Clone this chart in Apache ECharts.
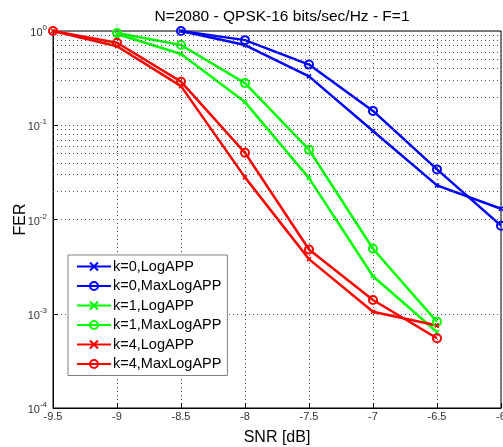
<!DOCTYPE html>
<html>
<head>
<meta charset="utf-8">
<script src="https://cdn.jsdelivr.net/npm/echarts@6/dist/echarts.min.js"></script>
<style>
html,body{margin:0;padding:0;background:#fff;}
#chart{width:503px;height:447px;}
</style>
</head>
<body>
<div id="chart"></div>
<script>
const snr = [-9.5, -9, -8.5, -8, -7.5, -7, -6.5, -6];
const k0Log    = [null, null, 1.0, 0.71, 0.33, 0.087, 0.023, 0.013];
const k0MaxLog = [null, null, 1.0, 0.80, 0.44, 0.142, 0.034, 0.0086];
const k1Log    = [null, 0.93, 0.57, 0.176, 0.0275, 0.0025, 0.00064, null];
const k1MaxLog = [null, 0.95, 0.71, 0.28, 0.055, 0.0049, 0.00082, null];
const k4Log    = [1.0, 0.69, 0.26, 0.028, 0.0038, 0.00105, 0.00075, null];
const k4MaxLog = [1.0, 0.75, 0.29, 0.051, 0.0048, 0.0014, 0.00055, null];
const xTicks = ['-9.5', '-9', '-8.5', '-8', '-7.5', '-7', '-6.5', '-6'];
const titleText = 'N=2080 - QPSK-16 bits/sec/Hz - F=1';

const FONT = '"Liberation Sans", Arial, sans-serif';
const crossSym = 'path://M0 0L10 10M10 0L0 10';

function pairs(arr) {
  const out = [];
  arr.forEach((v, i) => { if (v !== null) out.push([snr[i], v]); });
  return out;
}

// minor grid values (2..9 x 10^k)
const minorVals = [];
for (let e = -4; e < 0; e++) {
  for (let m = 2; m <= 9; m++) minorVals.push(m * Math.pow(10, e));
}

function mk(name, data, color, isCircle) {
  return {
    name: name,
    type: 'line',
    data: pairs(data),
    color: color,
    symbol: isCircle ? 'circle' : crossSym,
    symbolSize: isCircle ? 8 : 4,
    showAllSymbol: true,
    lineStyle: { width: 2.5, color: color },
    itemStyle: isCircle
      ? { color: 'rgba(255,255,255,0)', borderColor: color, borderWidth: 2 }
      : { color: color, borderColor: color, borderWidth: 1.5 },
    emphasis: { disabled: true },
    animation: false,
    z: 3
  };
}

const chart = echarts.init(document.getElementById('chart'), null, { renderer: 'canvas' });

const series = [
  mk('k=0,LogAPP', k0Log, '#0000ff', false),
  mk('k=0,MaxLogAPP', k0MaxLog, '#0000ff', true),
  mk('k=1,LogAPP', k1Log, '#00ff00', false),
  mk('k=1,MaxLogAPP', k1MaxLog, '#00ff00', true),
  mk('k=4,LogAPP', k4Log, '#ff0000', false),
  mk('k=4,MaxLogAPP', k4MaxLog, '#ff0000', true)
];
series.push({
  name: 'minorGrid',
  type: 'line',
  data: [],
  silent: true,
  z: 1,
  markLine: {
    silent: true,
    symbol: ['none', 'none'],
    label: { show: false },
    animation: false,
    lineStyle: { color: '#555', type: [1, 3], width: 1 },
    data: minorVals.map(v => ({ yAxis: v }))
  }
});

chart.setOption({
  animation: false,
  backgroundColor: '#fff',
  title: {
    text: titleText,
    left: 277,
    textAlign: 'center',
    top: 4,
    textStyle: { fontFamily: FONT, fontSize: 15.5, fontWeight: 'normal', color: '#000' }
  },
  grid: {
    left: 53, right: 2, top: 31, bottom: 39,
    containLabel: false,
    outerBoundsMode: 'none',
    show: true, borderColor: '#000', borderWidth: 1, backgroundColor: 'transparent'
  },
  legend: {
    orient: 'vertical',
    left: 68,
    top: 255,
    padding: [4, 6, 4, 8],
    itemWidth: 34,
    itemHeight: 10,
    itemGap: 4.5,
    backgroundColor: '#fff',
    borderColor: '#808080',
    borderWidth: 1,
    data: series.slice(0, 6).map(s => s.name),
    textStyle: { fontFamily: FONT, fontSize: 14.5, color: '#000', padding: [0, 0, 0, -3] }
  },
  xAxis: {
    type: 'value',
    min: -9.5, max: -6, interval: 0.5,
    name: 'SNR [dB]',
    nameLocation: 'middle',
    nameGap: 22,
    nameMoveOverlap: false,
    nameTextStyle: { fontFamily: FONT, fontSize: 16, color: '#000' },
    axisLine: { lineStyle: { color: '#000' } },
    axisTick: { inside: true, length: 5, lineStyle: { color: '#000' } },
    axisLabel: {
      fontFamily: FONT, fontSize: 11, color: '#333', margin: 3,
      formatter: v => xTicks[Math.round((v - snr[0]) / 0.5)] || ''
    },
    splitLine: { show: true, lineStyle: { color: '#555', type: [1, 3], width: 1 } }
  },
  yAxis: {
    type: 'log',
    logBase: 10,
    min: 1e-4, max: 1,
    name: 'FER',
    nameLocation: 'middle',
    nameGap: 24,
    nameMoveOverlap: false,
    nameTextStyle: { fontFamily: FONT, fontSize: 16, color: '#000' },
    axisLine: { lineStyle: { color: '#000' } },
    axisTick: { inside: true, length: 5, lineStyle: { color: '#000' } },
    axisLabel: {
      margin: 6,
      formatter: v => '{b|10}{s|' + Math.round(Math.log10(v)) + '}',
      rich: {
        b: { fontFamily: FONT, fontSize: 11, color: '#333', padding: [4, 0, 0, 0] },
        s: { fontFamily: FONT, fontSize: 8, color: '#333', padding: [0, 0, 6, 0] }
      }
    },
    splitLine: { show: true, lineStyle: { color: '#555', type: [1, 3], width: 1 } }
  },
  series: series
});
</script>
</body>
</html>
